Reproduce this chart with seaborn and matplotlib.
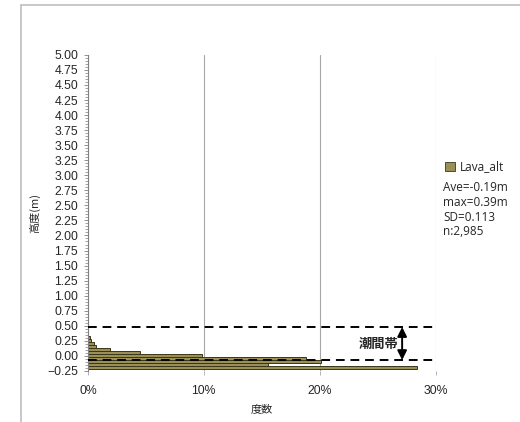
import numpy as np
import pandas as pd
import seaborn as sns
import matplotlib.pyplot as plt
from matplotlib.lines import Line2D
from matplotlib.patches import Patch
from matplotlib.ticker import MultipleLocator, FuncFormatter

# altitude bin centres (m) and share of points in each bin (%)
alt_bins = [-0.20, -0.15, -0.10, -0.05, 0.00, 0.05, 0.10, 0.15, 0.20, 0.25, 0.30]
freq_pct = [28.4, 15.5, 20.1, 18.8, 9.8, 4.5, 1.9, 0.7, 0.5, 0.3, 0.2]

# tidal zone limits (m)
zone_top = 0.48
zone_bottom = -0.07

stats_lines = ["Ave=-0.19m", "max=0.39m", "SD=0.113", "n:2,985"]

sns.set_style("white")
plt.rcParams['font.family'] = ['Liberation Sans', 'Noto Sans CJK JP']

df = pd.DataFrame({"alt": alt_bins, "pct": freq_pct})

fig = plt.figure(figsize=(5.2, 4.22), dpi=100)
ax = fig.add_axes([0.169, 0.121, 0.669, 0.749])

sns.barplot(data=df, x="pct", y="alt", orient="y", native_scale=True, width=1.0,
            color="#9A8F55", saturation=1, edgecolor="#3A361C", linewidth=0.7, ax=ax)

ax.set_xlim(0, 30)
ax.set_ylim(-0.25, 5.0)
ax.xaxis.set_major_locator(MultipleLocator(10))
ax.xaxis.set_major_formatter(FuncFormatter(lambda v, p: f"{v:.0f}%"))
ax.yaxis.set_major_locator(MultipleLocator(0.25))
ax.yaxis.set_minor_locator(MultipleLocator(0.05))
ax.yaxis.set_major_formatter(FuncFormatter(lambda v, p: f"{v:.2f}".replace("-", "\u2212")))
ax.grid(axis="x", color="#A6A6A6", linewidth=0.8)
ax.set_axisbelow(True)

for s in ["top", "right", "bottom"]:
    ax.spines[s].set_visible(False)
ax.spines["left"].set_color("#808080")
ax.spines["left"].set_linewidth(0.8)
ax.tick_params(axis="y", which="major", direction="out", length=3, width=0.6,
               color="#808080", labelsize=8.8, pad=4, left=True)
ax.tick_params(axis="y", which="minor", direction="out", length=2, width=0.5,
               color="#808080", left=True)
ax.tick_params(axis="x", direction="out", length=3, width=0.6, color="#A6A6A6",
               labelsize=8.8, pad=7, bottom=True)

ax.set_xlabel("度数", fontsize=8, family=['Noto Sans CJK JP'], labelpad=5)
ax.set_ylabel("高度(m)", fontsize=8, family=['Noto Sans CJK JP'], labelpad=5)

# tidal zone band
for yv in [zone_top, zone_bottom]:
    ax.axhline(yv, color="black", linestyle=(0, (4.5, 3)), linewidth=1.4, zorder=4)
ax.annotate("", xy=(27.1, zone_top), xytext=(27.1, zone_bottom),
            arrowprops=dict(arrowstyle="<|-|>", color="black", lw=1.4,
                            mutation_scale=14, shrinkA=0, shrinkB=0), zorder=5)
ax.text(26.8, (zone_top + zone_bottom) / 2, "潮間帯", ha="right", va="center",
        fontsize=9.5, fontweight="bold", family=['Noto Sans CJK JP'], zorder=5)

# legend and stats
leg = fig.legend(handles=[Patch(facecolor="#9A8F55", edgecolor="#3A361C", linewidth=0.6)],
                 labels=["Lava_alt"], loc="upper left", bbox_to_anchor=(0.836, 0.645),
                 frameon=False, handlelength=0.8, handleheight=0.8,
                 handletextpad=0.4, prop={"family": "Open Sans", "size": 8.5})
for i, line in enumerate(stats_lines):
    fig.text(0.852, 1 - (188 + i * 14.5) / 422, line, fontsize=8.5,
             family="Open Sans", va="center", ha="left")

# outer chart frame
frame_x = 21 / 520
frame_y = 1 - 5 / 422
fig.add_artist(Line2D([frame_x, frame_x], [0, frame_y], color="#BFBFBF", lw=1.2))
fig.add_artist(Line2D([frame_x, 1], [frame_y, frame_y], color="#BFBFBF", lw=1.2))

fig.savefig("out.png", dpi=100)
